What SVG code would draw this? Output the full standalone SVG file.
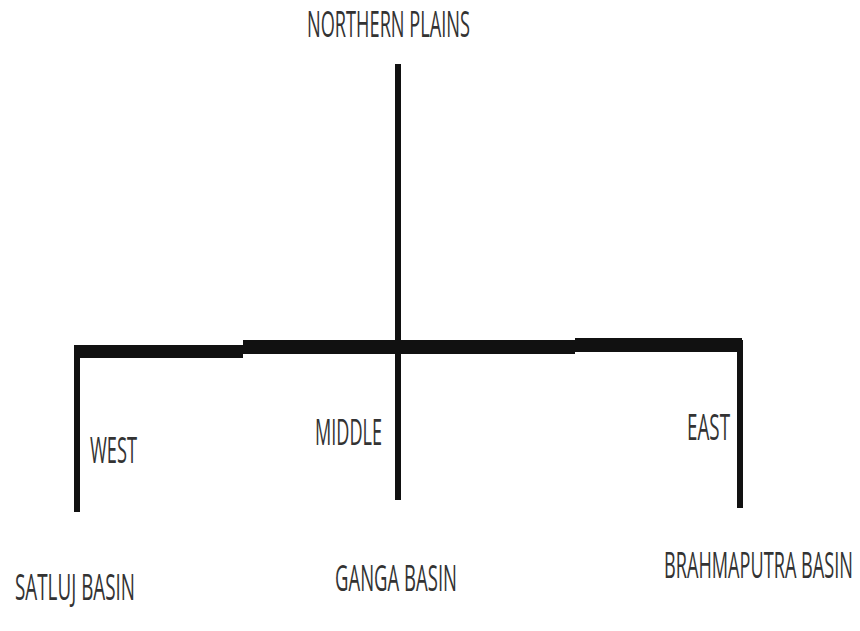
<svg xmlns="http://www.w3.org/2000/svg" width="860" height="631" viewBox="0 0 860 631">
<style>
.t{font-family:"Open Sans","Liberation Sans",sans-serif;font-size:37px;fill:#333;}
.ln{stroke:#111;fill:none;}
</style>
<rect width="860" height="631" fill="#fff"/>
<g id="connectors">
<line class="ln" x1="398" y1="64" x2="398" y2="500" stroke-width="6"/>
<path d="M76,345 H243 V340 H575 V338 H742 V352 H575 V354 H243 V358 H76 Z" fill="#111"/>
<line class="ln" x1="77" y1="345" x2="77" y2="512" stroke-width="6"/>
<line class="ln" x1="740" y1="340" x2="740" y2="508" stroke-width="6"/>
</g>
<g id="northern-plains"><text class="t" x="307" y="37" textLength="163" lengthAdjust="spacingAndGlyphs">NORTHERN PLAINS</text></g>
<g id="west"><text class="t" x="90" y="463" textLength="47" lengthAdjust="spacingAndGlyphs">WEST</text></g>
<g id="middle"><text class="t" x="315" y="445" textLength="67" lengthAdjust="spacingAndGlyphs">MIDDLE</text></g>
<g id="east"><text class="t" x="687" y="440" textLength="43" lengthAdjust="spacingAndGlyphs">EAST</text></g>
<g id="satluj"><text class="t" x="15" y="600" textLength="120" lengthAdjust="spacingAndGlyphs">SATLUJ BASIN</text></g>
<g id="ganga"><text class="t" x="335" y="591" textLength="122" lengthAdjust="spacingAndGlyphs">GANGA BASIN</text></g>
<g id="brahmaputra"><text class="t" x="664" y="578" textLength="189" lengthAdjust="spacingAndGlyphs">BRAHMAPUTRA BASIN</text></g>
</svg>
